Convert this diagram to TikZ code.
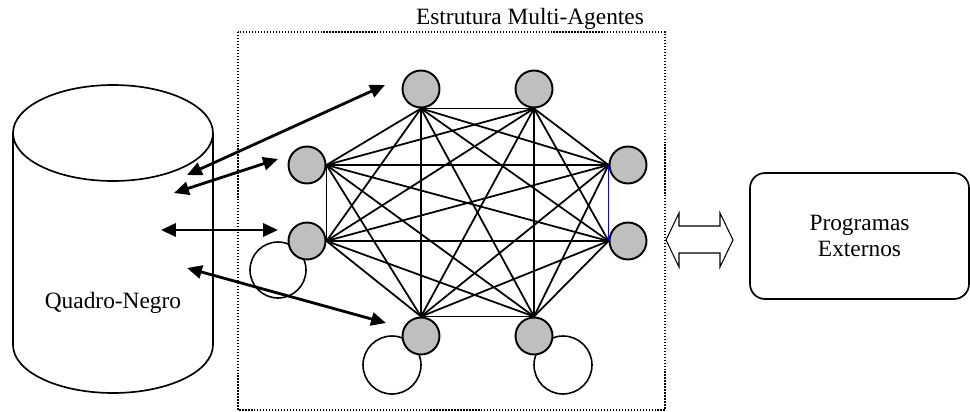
\documentclass[tikz,border=0pt]{standalone}
\usepackage{fontspec}
\setmainfont{Liberation Serif}
\usetikzlibrary{arrows.meta}

\begin{document}
\begin{tikzpicture}[x=0.02cm, y=-0.02cm, font=\fontsize{13.3}{14.8}\selectfont,
	agente/.style={circle, draw, line width=1.1pt, fill=black!25, minimum size=0.74cm, inner sep=0pt},
	ligacao/.style={line width=1pt},
	laco/.style={line width=0.9pt},
	troca/.style={{Triangle[length=8.5pt,width=7.5pt]}-{Triangle[length=8.5pt,width=7.5pt]}, line width=1.6pt}]
	\useasboundingbox (0,0) rectangle (970,412);
	
	% quadro-negro
	\draw [line width=0.95pt] (113,133) ellipse [x radius=2cm, y radius=0.96cm];
	\draw [line width=0.95pt] (13,133) -- (13,345) arc [start angle=180, end angle=360, x radius=2cm, y radius=0.96cm] -- (213,133);
	\node (qn) at (113,303) {Quadro-Negro};
	
	% estrutura multi-agentes
	\draw [densely dotted, line width=0.7pt] (238,32) rectangle (665,410);
	\node (titulo) at (530,19) {Estrutura Multi-Agentes};
	
	\draw [laco] (278,270) circle [radius=0.56cm];
	\draw [laco] (392,365) circle [radius=0.58cm];
	\draw [laco] (563,365) circle [radius=0.58cm];
	
	\node [agente] (a1) at (421,89) {};
	\node [agente] (a2) at (534,89) {};
	\node [agente] (a3) at (628,165) {};
	\node [agente] (a4) at (628,241) {};
	\node [agente] (a5) at (534,336) {};
	\node [agente] (a6) at (421,336) {};
	\node [agente] (a7) at (307,241) {};
	\node [agente] (a8) at (307,165) {};
	
	\coordinate (p1) at (a1.south);
	\coordinate (p2) at (a2.south);
	\coordinate (p3) at (a3.west);
	\coordinate (p4) at (a4.west);
	\coordinate (p5) at (a5.north);
	\coordinate (p6) at (a6.north);
	\coordinate (p7) at (a7.east);
	\coordinate (p8) at (a8.east);
	
	\foreach \i in {1,...,8}
	\foreach \j in {1,...,8}
	{\ifnum\i<\j \draw [ligacao] (p\i) -- (p\j); \fi}
	\draw [ligacao, blue] (p3) -- (p4);
	
	% trocas com o quadro-negro
	\coordinate (q1) at (187,175);
	\coordinate (m1) at (385,85);
	\coordinate (q2) at (174,193);
	\coordinate (m2) at (278,159);
	\coordinate (q3) at (161,230);
	\coordinate (m3) at (278,230);
	\coordinate (q4) at (187,268);
	\coordinate (m4) at (386,323);
	\draw [troca] (q1) -- (m1);
	\draw [troca] (q2) -- (m2);
	\draw [troca] (q3) -- (m3);
	\draw [troca] (q4) -- (m4);
	
	% programas externos
	\draw [line width=0.6pt] (666,240) -- (679,213) -- (679,226) -- (720,226) -- (720,213) -- (733,240) -- (720,267) -- (720,253) -- (679,253) -- (679,267) -- cycle;
	\node [draw, line width=0.95pt, rounded corners=0.3cm, minimum width=4.38cm, minimum height=2.52cm, align=center] (prog) at (859.5,236) {Programas\\Externos};
\end{tikzpicture}
\end{document}
